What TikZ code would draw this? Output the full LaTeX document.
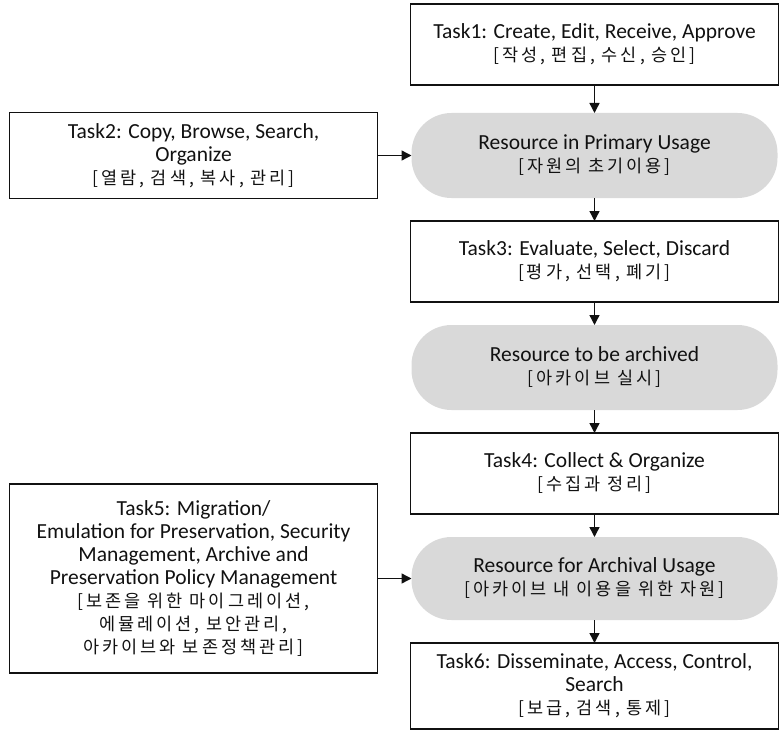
\documentclass[tikz,border=0pt]{standalone}
\usepackage{fontspec}
\setmainfont{Carlito}
\newfontfamily\kr[LetterSpace=17]{Noto Sans CJK KR}
\usepackage{xcolor}
\usetikzlibrary{arrows.meta,positioning}
\definecolor{pillgray}{HTML}{D9D9D9}
\definecolor{ink}{HTML}{111111}
\newcommand{\ko}[1]{{\kr\fontsize{17.5}{23}\selectfont #1}}

\begin{document}
\begin{tikzpicture}[
  x=1pt, y=1pt,
  node distance=23pt,
  box/.style={rectangle, draw=ink, line width=1.4pt, outer sep=0pt, inner sep=2pt, minimum width=368pt, minimum height=81pt, align=center, text=ink, font=\fontsize{21.5}{23}\selectfont},
  pill/.style={rectangle, rounded corners=40pt, fill=pillgray, outer sep=0pt, inner sep=2pt, minimum width=366pt, minimum height=85pt, align=center, text=ink, font=\fontsize{21.5}{23}\selectfont},
  arrow/.style={-{Triangle[length=10pt,width=10pt]}, line width=1.4pt, draw=ink}
]
\useasboundingbox (0,0) rectangle (784,-733);
\node[box] (t1) at (594.5,-44.5) {Task1: Create, Edit, Receive, Approve\\ \ko{[작성, 편집, 수신, 승인]}};
\node[pill, below=28pt of t1] (r1) {Resource in Primary Usage\\ \ko{[자원의 초기이용]}};
\node[box, below=of r1] (t3) {Task3: Evaluate, Select, Discard\\ \ko{[평가, 선택, 폐기]}};
\node[pill, below=of t3] (r2) {Resource to be archived\\ \ko{[아카이브 실시]}};
\node[box, below=of r2] (t4) {Task4: Collect \& Organize\\ \ko{[수집과 정리]}};
\node[pill, minimum height=83pt, below=of t4] (r3) {Resource for Archival Usage\\ \ko{[아카이브 내 이용을 위한 자원]}};
\node[box, minimum height=86pt, below=of r3] (t6) {Task6: Disseminate, Access, Control,\\ Search\\ \ko{[보급, 검색, 통제]}};
\node[box, minimum height=86pt, left=34pt of r1] (t2) {Task2: Copy, Browse, Search,\\ Organize\\ \ko{[열람, 검색, 복사, 관리]}};
\node[box, minimum height=189pt, left=34pt of r3] (t5) {Task5: Migration/\\ Emulation for Preservation, Security\\ Management, Archive and\\ Preservation Policy Management\\ \ko{[보존을 위한 마이그레이션,}\\ \ko{에뮬레이션, 보안관리,}\\ \ko{아카이브와 보존정책관리]}};
\draw[arrow] (t1) -- (r1);
\draw[arrow] (r1) -- (t3);
\draw[arrow] (t3) -- (r2);
\draw[arrow] (r2) -- (t4);
\draw[arrow] (t4) -- (r3);
\draw[arrow] (r3) -- (t6);
\draw[arrow] (t2) -- (r1);
\draw[arrow] (t5) -- (r3);
\end{tikzpicture}
\end{document}
